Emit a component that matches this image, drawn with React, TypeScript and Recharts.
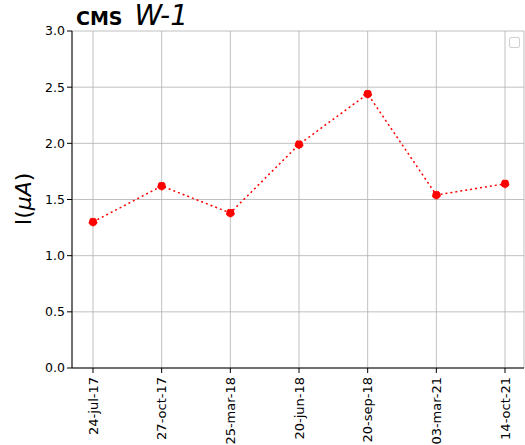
import { LineChart, Line, XAxis, YAxis, CartesianGrid } from "recharts";

const dates = ["24-jul-17", "27-oct-17", "25-mar-18", "20-jun-18", "20-sep-18", "03-mar-21", "14-oct-21"];
const current = [1.3, 1.62, 1.38, 1.99, 2.44, 1.54, 1.64];
const yTicks = [0, 0.5, 1, 1.5, 2, 2.5, 3];

const data = dates.map((d, i) => ({ date: d, current: current[i] }));

const font = "DejaVu Sans, sans-serif";

function DateTick(props: any) {
  const { x, y, payload } = props;
  return (
    <text
      x={x}
      y={y}
      transform={`rotate(-90, ${x}, ${y})`}
      textAnchor="end"
      dominantBaseline="central"
      fontSize={13}
      fontFamily={font}
      fill="#000"
    >
      {payload.value}
    </text>
  );
}

export default function App() {
  return (
    <div style={{ position: "absolute", left: 0, top: 0, width: 525, height: 445, background: "#fff" }}>
      <LineChart width={525} height={445} data={data} margin={{ top: 31, right: 1, left: 0, bottom: 0 }}>
        <CartesianGrid stroke="#b0b0b0" strokeWidth={0.8} />
        <XAxis
          dataKey="date"
          padding={{ left: 21, right: 19 }}
          height={77}
          tick={<DateTick />}
          tickSize={5}
          tickMargin={4}
          interval={0}
          stroke="#000"
          tickLine={{ stroke: "#000" }}
        />
        <XAxis xAxisId="top" orientation="top" dataKey="date" height={0} tick={false} tickLine={false} stroke="#000" />
        <YAxis
          domain={[0, 3]}
          ticks={yTicks}
          width={72}
          tickSize={5}
          tickFormatter={(v: number) => v.toFixed(1)}
          tick={{ fontSize: 12.5, fontFamily: font, fill: "#000" }}
          stroke="#000"
          interval={0}
        />
        <YAxis yAxisId="right" orientation="right" width={0} tick={false} tickLine={false} stroke="#000" />
        <Line
          type="linear"
          dataKey="current"
          stroke="#ff0000"
          strokeWidth={1.5}
          strokeDasharray="2 3"
          dot={{ r: 4, fill: "#ff0000", stroke: "#ff0000", strokeWidth: 1 }}
          isAnimationActive={false}
        />
      </LineChart>
      <div style={{ position: "absolute", left: 76, top: 2, fontFamily: font, whiteSpace: "nowrap", lineHeight: 1 }}>
        <span style={{ fontWeight: "bold", fontSize: 19 }}>CMS</span>
        <span style={{ fontStyle: "italic", fontSize: 28, marginLeft: 12 }}>W-1</span>
      </div>
      <svg width={60} height={445} style={{ position: "absolute", left: 0, top: 0 }}>
        <text
          x={31}
          y={199}
          transform="rotate(-90, 31, 199)"
          textAnchor="middle"
          fontSize={22}
          fontFamily={font}
          fill="#000"
        >
          I(<tspan fontStyle="italic">μA</tspan>)
        </text>
      </svg>
      <div
        style={{
          position: "absolute",
          left: 509,
          top: 37,
          width: 9,
          height: 9,
          border: "1px solid #d0d0d0",
          borderRadius: 2,
          background: "#fff",
        }}
      />
    </div>
  );
}
